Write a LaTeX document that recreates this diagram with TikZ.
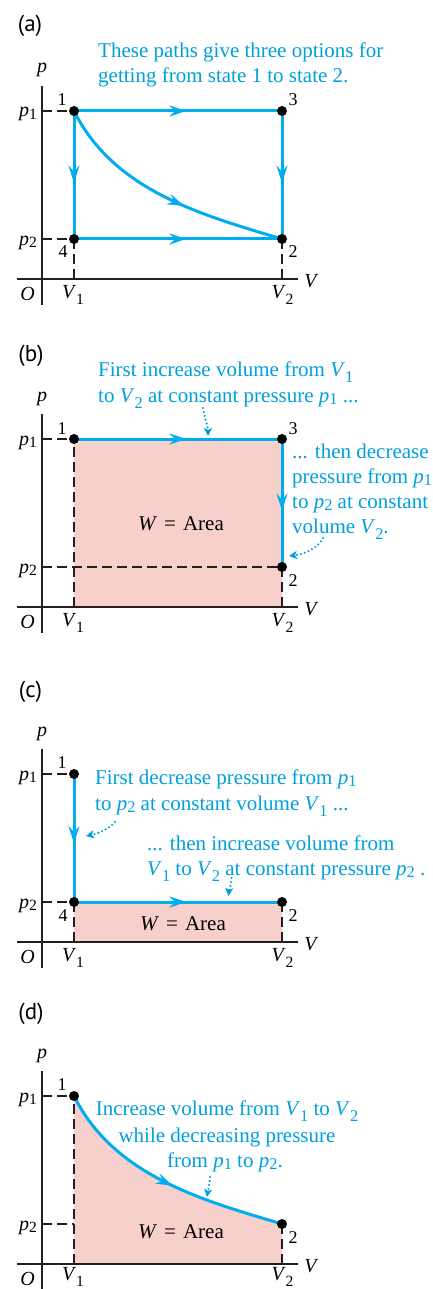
\documentclass[tikz,border=0pt]{standalone}
\usepackage{fontspec}
\setmainfont{Liberation Serif}
\newfontfamily\panelfont{PT Sans}
\usetikzlibrary{arrows.meta,decorations.markings}
\definecolor{lineblue}{RGB}{0,174,239}
\definecolor{txtblue}{RGB}{0,160,222}
\definecolor{areapink}{RGB}{248,208,203}
\definecolor{axisgray}{RGB}{35,31,32}
\newcommand{\psub}[1]{\raisebox{-0.12em}{\scalebox{0.78}{#1}}}
\newcommand{\vsub}[1]{\raisebox{-0.3em}{\scalebox{0.78}{#1}}}
\newcommand{\pp}[1]{\textit{p}\psub{#1}}
\newcommand{\vv}[1]{\textit{V}\vsub{#1}}
\tikzset{
  axisline/.style={draw=axisgray, line width=1.4pt},
  dashline/.style={draw=axisgray, line width=1.2pt, dash pattern=on 10pt off 5pt},
  pathline/.style={draw=lineblue, line width=3pt},
  midarrow/.style={postaction={decorate}, decoration={markings, mark=at position #1 with {\arrow{Stealth[length=17pt,width=11pt,inset=6pt]}}}},
  statedot/.style={circle, fill=black, inner sep=0pt, minimum size=10pt},
  axislabel/.style={font=\fontsize{20}{24}\selectfont, inner sep=0pt, anchor=base},
  numlabel/.style={font=\fontsize{18}{22}\selectfont, inner sep=0pt, anchor=base},
  note/.style={text=txtblue, font=\fontsize{21}{25}\selectfont, inner sep=0pt, anchor=base west},
  pointer/.style={draw=txtblue, line width=2.3pt, dash pattern=on 0pt off 4pt, line cap=round, -{Stealth[length=8pt,width=8pt,inset=2pt]}},
  panellabel/.style={font=\panelfont\fontsize{23}{27}\selectfont, inner sep=0pt},
  arealabel/.style={font=\fontsize{21}{25}\selectfont, inner sep=0pt, anchor=base},
}
% common axes; #1 = name prefix, #2 = extra drop of the V labels
\newcommand{\pvaxes}[2]{%
  \draw[axisline] (42,-25) -- (42,194);
  \draw[axisline] (17,168) -- (298,168);
  \node[axislabel] (#1p) at (42,-38) {\textit{p}};
  \node[axislabel, anchor=base east] (#1pone) at (37,6) {\pp1};
  \node[axislabel, anchor=base east] (#1ptwo) at (37,134) {\pp2};
  \node[axislabel] (#1O) at (27.5,189) {\textit{O}};
  \node[axislabel] (#1Vone) at (73,187+#2) {\vv1};
  \node[axislabel] (#1Vtwo) at (282.5,187+#2) {\vv2};
  \node[axislabel] (#1V) at (311.5,176) {\textit{V}};
}
\begin{document}
\begin{tikzpicture}[x=1pt,y=-1pt]
\useasboundingbox (0,0) rectangle (433,1289);
\fill[white] (0,0) rectangle (433,1289);
\clip (0,0) rectangle (433,1289);

% ---------------- (a)
\node[panellabel] (la) at (30,26) {(a)};
\node[note] (na1) at (98,58) {These paths give three options for};
\node[note] (na2) at (98,83) {getting from state 1 to state 2.};
\begin{scope}[shift={(0,111)}]
  \coordinate (a1) at (74,0);
  \coordinate (a3) at (282,0);
  \coordinate (a2) at (282,128);
  \coordinate (a4) at (74,128);
  \draw[dashline] (42,0) -- (a1);
  \draw[dashline] (42,128) -- (a4);
  \draw[dashline] (74,168) -- (a4);
  \draw[dashline] (282,168) -- (a2);
  \pvaxes{a}{0}
  \draw[pathline, midarrow=0.54] (a1) -- (a3);
  \draw[pathline, midarrow=0.56] (a3) -- (a2);
  \draw[pathline, midarrow=0.56] (a1) -- (a4);
  \draw[pathline, midarrow=0.54] (a4) -- (a2);
  \draw[pathline, midarrow=0.59] (a1) .. controls (114,80) and (202,104) .. (a2);
  \node[statedot] (a1d) at (a1) {};
  \node[statedot] (a2d) at (a2) {};
  \node[statedot] (a3d) at (a3) {};
  \node[statedot] (a4d) at (a4) {};
  \node[numlabel] (a1l) at (62,-5) {1};
  \node[numlabel] (a3l) at (293,-5) {3};
  \node[numlabel] (a2l) at (293,147) {2};
  \node[numlabel] (a4l) at (63,147) {4};
\end{scope}

% ---------------- (b)
\node[panellabel] (lb) at (31,356) {(b)};
\node[note] (nb1) at (98,376) {First increase volume from \vv1};
\node[note] (nb2) at (98,402) {to \vv2\ at constant pressure \pp1\ ...};
\node[note] (nb3) at (292,458) {... then decrease};
\node[note] (nb4) at (292,483) {pressure from \pp1};
\node[note] (nb5) at (292,508) {to \pp2\ at constant};
\node[note] (nb6) at (292,533) {volume \vv2.};
\begin{scope}[shift={(0,439)}]
  \coordinate (b1) at (74,0);
  \coordinate (b3) at (282,0);
  \coordinate (b2) at (282,128);
  \fill[areapink] (74,0) rectangle (282,168);
  \draw[dashline] (42,0) -- (b1);
  \draw[dashline] (42,128) -- (b2);
  \draw[dashline] (74,168) -- (b1);
  \draw[dashline] (282,168) -- (b2);
  \pvaxes{b}{0}
  \draw[pathline, midarrow=0.54] (b1) -- (b3);
  \draw[pathline, midarrow=0.56] (b3) -- (b2);
  \node[statedot] (b1d) at (b1) {};
  \node[statedot] (b2d) at (b2) {};
  \node[statedot] (b3d) at (b3) {};
  \node[numlabel] (b1l) at (62,-5) {1};
  \node[numlabel] (b3l) at (293,-5) {3};
  \node[numlabel] (b2l) at (293,147) {2};
  \node[arealabel] (bW) at (181,91) {\textit{W}\hspace{7pt}=\hspace{7pt}Area};
\end{scope}
\coordinate (pb1s) at (203,408);
\coordinate (pb1e) at (208,436);
\draw[pointer] (pb1s) .. controls (205,420) and (208,426) .. (pb1e);
\coordinate (pb2s) at (323,538);
\coordinate (pb2e) at (289,556);
\draw[pointer] (pb2s) .. controls (318,548) and (305,554) .. (pb2e);

% ---------------- (c)
\node[panellabel] (lc) at (30.5,692) {(c)};
\node[note] (nc1) at (95,784) {First decrease pressure from \pp1};
\node[note] (nc2) at (95,810) {to \pp2\ at constant volume \vv1\ ...};
\node[note] (nc3) at (147,850) {... then increase volume from};
\node[note] (nc4) at (147,875) {\vv1\ to \vv2\ at constant pressure \pp2\ .};
\begin{scope}[shift={(0,774)}]
  \coordinate (c1) at (74,0);
  \coordinate (c4) at (74,128);
  \coordinate (c2) at (282,128);
  \fill[areapink] (74,128) rectangle (282,168);
  \draw[dashline] (42,0) -- (c1);
  \draw[dashline] (42,128) -- (c4);
  \draw[dashline] (74,168) -- (c4);
  \draw[dashline] (282,168) -- (c2);
  \pvaxes{c}{0}
  \draw[pathline, midarrow=0.54] (c1) -- (c4);
  \draw[pathline, midarrow=0.54] (c4) -- (c2);
  \node[statedot] (c1d) at (c1) {};
  \node[statedot] (c2d) at (c2) {};
  \node[statedot] (c4d) at (c4) {};
  \node[numlabel] (c1l) at (62,-6) {1};
  \node[numlabel] (c4l) at (63,147) {4};
  \node[numlabel] (c2l) at (293,147) {2};
  \node[arealabel] (cW) at (183,156) {\textit{W}\hspace{7pt}=\hspace{7pt}Area};
\end{scope}
\coordinate (pc1s) at (115,822);
\coordinate (pc1e) at (86,836);
\draw[pointer] (pc1s) .. controls (110,828) and (100,833) .. (pc1e);
\coordinate (pc2s) at (231.5,878);
\coordinate (pc2e) at (228.5,896);
\draw[pointer] (pc2s) .. controls (231,886) and (229,890) .. (pc2e);

% ---------------- (d)
\node[panellabel] (ld) at (31,1014) {(d)};
\node[note, anchor=base] (nd1) at (227,1115) {Increase volume from \vv1\ to \vv2};
\node[note, anchor=base] (nd2) at (227,1142) {while decreasing pressure};
\node[note, anchor=base] (nd3) at (225,1167) {from \pp1\ to \pp2.};
\begin{scope}[shift={(0,1096)}]
  \coordinate (d1) at (74,0);
  \coordinate (d2) at (282,128);
  \fill[areapink] (d1) .. controls (114,80) and (202,104) .. (d2) -- (282,168) -- (74,168) -- cycle;
  \draw[dashline] (42,0) -- (d1);
  \draw[dashline] (42,128) -- (74,128);
  \draw[dashline] (74,168) -- (d1);
  \draw[dashline] (282,168) -- (d2);
  \pvaxes{d}{-3}
  \draw[pathline, midarrow=0.54] (d1) .. controls (114,80) and (202,104) .. (d2);
  \node[statedot] (d1d) at (d1) {};
  \node[statedot] (d2d) at (d2) {};
  \node[numlabel] (d1l) at (62,-6) {1};
  \node[numlabel] (d2l) at (293,147) {2};
  \node[arealabel] (dW) at (181,142) {\textit{W}\hspace{7pt}=\hspace{7pt}Area};
\end{scope}
\coordinate (pd1s) at (210,1177);
\coordinate (pd1e) at (207,1197);
\draw[pointer] (pd1s) .. controls (209.5,1185) and (208,1190) .. (pd1e);
\end{tikzpicture}
\end{document}
